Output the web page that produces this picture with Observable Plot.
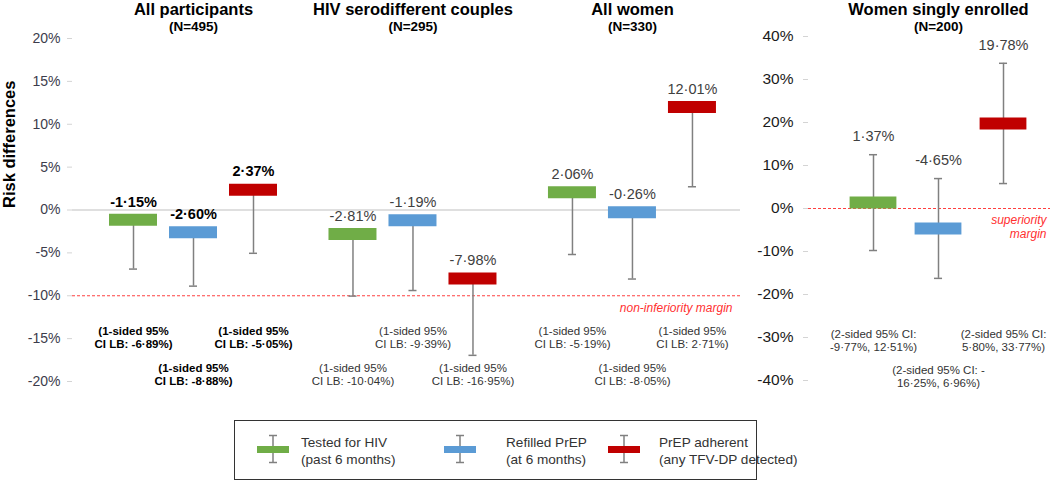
<!DOCTYPE html>
<html><head><meta charset="utf-8">
<script src="https://cdn.jsdelivr.net/npm/d3@7"></script>
<script src="https://cdn.jsdelivr.net/npm/@observablehq/plot@0.6"></script>
<style>
body{margin:0;background:#fff;font-family:"Liberation Sans",Arial,sans-serif;}
#wrap{position:relative;width:1050px;height:481px;overflow:hidden;background:#fff;}
#left{position:absolute;left:0;top:0;}
#right{position:absolute;left:740px;top:0;}
#legend{position:absolute;left:234px;top:420px;width:523px;height:60px;border:1.5px solid #333;box-sizing:border-box;}
#legend .icon{position:absolute;top:13px;}
#legend .lab{position:absolute;top:13px;font-size:13.6px;line-height:17px;color:#333;white-space:nowrap;}
</style></head><body>
<div id="wrap"><div id="left"></div><div id="right"></div><div id="legend"></div></div>
<script>
// ---------- data ----------
const groups = ["All participants", "HIV serodifferent couples", "All women", "Women singly enrolled"];
const groupN = [495, 295, 330, 200];
const seriesNames = ["Tested for HIV", "Refilled PrEP", "PrEP adherent"];
const seriesSub = ["(past 6 months)", "(at 6 months)", "(any TFV-DP detected)"];
const seriesColors = ["#70ad47", "#5b9bd5", "#c00000"];
const estimates = [[-1.15, -2.60, 2.37], [-2.81, -1.19, -7.98], [2.06, -0.26, 12.01], [1.37, -4.65, 19.78]];
const lowerCI   = [[-6.89, -8.88, -5.05], [-10.04, -9.39, -16.95], [-5.19, -8.05, 2.71], [-9.77, -16.25, 5.80]];
const upperCI   = [null, null, null, [12.51, 6.96, 33.77]];
const leftTicks  = [20, 15, 10, 5, 0, -5, -10, -15, -20];
const rightTicks = [40, 30, 20, 10, 0, -10, -20, -30, -40];
const nonInferiorityMargin = -10;
const superiorityMargin = 0;

// ---------- helpers ----------
const GROUP_STEP = 3.658;
const fmt = v => (v < 0 ? "-" : "") + Math.abs(v).toFixed(2).replace(".", "\u00b7") + "%";
function note(d) {
  if (d.hi == null) return `(1-sided 95%\nCI LB: ${fmt(d.lo)})`;
  if (d.lo <= -10) return `(2-sided 95% CI: -\n${fmt(-d.lo)}, ${fmt(d.hi)})`;
  return `(2-sided 95% CI:\n${fmt(d.lo)}, ${fmt(d.hi)})`;
}
function panelRows(gList) {
  const rows = [];
  gList.forEach((g, gi) => seriesNames.forEach((name, s) => rows.push({
    g, gi, s, name, u: gi * GROUP_STEP + s,
    est: estimates[g][s], lo: lowerCI[g][s], hi: upperCI[g] ? upperCI[g][s] : null,
    row: (gi + s) % 2
  })));
  return rows;
}
const FONT = "Liberation Sans, Arial, sans-serif";
const GRAY = "#808080";

function makePanel(o) {
  const rows = panelRows(o.groups);
  const caps = [];
  rows.forEach(d => { caps.push({u: d.u, v: d.lo}); if (d.hi != null) caps.push({u: d.u, v: d.hi}); });
  const top = d => d.hi != null ? d.hi : d.est;
  const titles = o.groups.map((g, gi) => ({g, u: gi * GROUP_STEP + 1}));
  const bold = d => d.g === 0;
  const marks = [];
  if (o.zeroLine) marks.push(Plot.ruleY([0], {stroke: "#bfbfbf", strokeWidth: 1}));
  marks.push(Plot.ruleY([o.margin], {stroke: "#ff4040", strokeWidth: 1, strokeDasharray: "3,2"}));
  marks.push(Plot.axisY({ticks: o.ticks, tickSize: 5, tickPadding: o.tickPadding, tickFormat: d => d + "%",
    fontSize: o.tickFont, fill: o.tickColor, stroke: "#d4d4d4", line: true, label: null}));
  marks.push(Plot.ruleX(rows, {x: "u", y1: top, y2: "lo", stroke: GRAY, strokeWidth: 1.5}));
  marks.push(Plot.ruleY(caps, {y: "v", x1: d => d.u - o.capHalf, x2: d => d.u + o.capHalf, stroke: GRAY, strokeWidth: 1.5}));
  marks.push(Plot.ruleY(rows, {y: "est", x1: d => d.u - o.barHalf, x2: d => d.u + o.barHalf, stroke: "name", strokeWidth: 12}));
  // value labels
  marks.push(Plot.text(rows.filter(bold), {x: "u", y: top, dy: -18, text: d => fmt(d.est), fontSize: 14.5, fontWeight: "bold", fill: "#000"}));
  marks.push(Plot.text(rows.filter(d => !bold(d)), {x: "u", y: top, dy: -18, text: d => fmt(d.est), fontSize: 14.5, fill: "#404040"}));
  // CI notes
  for (const r of [0, 1]) {
    const dy = r === 0 ? o.row0 : o.row1;
    marks.push(Plot.text(rows.filter(d => d.row === r && bold(d)), {x: "u", frameAnchor: "bottom", lineAnchor: "bottom", dy, text: note, fontSize: 11.5, lineHeight: 1.13, fontWeight: "bold", fill: "#000"}));
    marks.push(Plot.text(rows.filter(d => d.row === r && !bold(d)), {x: "u", frameAnchor: "bottom", lineAnchor: "bottom", dy, text: note, fontSize: 11.5, lineHeight: 1.13, fill: "#333"}));
  }
  // titles
  marks.push(Plot.text(titles, {x: "u", frameAnchor: "top", lineAnchor: "top", dy: o.titleDy, text: d => groups[d.g], fontSize: 16.5, fontWeight: "bold", fill: "#000"}));
  marks.push(Plot.text(titles, {x: "u", frameAnchor: "top", lineAnchor: "top", dy: o.titleDy + 17.5, text: d => `(N=${groupN[d.g]})`, fontSize: 13.5, fontWeight: "bold", fill: "#000"}));
  if (o.extra) marks.push(...o.extra);
  return Plot.plot({
    width: o.width, height: 400,
    marginLeft: o.marginLeft, marginRight: 0, marginTop: o.marginTop, marginBottom: o.marginBottom,
    x: {domain: o.xDomain, axis: null},
    y: {domain: [o.ticks[o.ticks.length - 1], o.ticks[0]]},
    color: {domain: seriesNames, range: seriesColors},
    style: {fontFamily: FONT, background: "transparent", overflow: "visible"},
    marks
  });
}

const left = makePanel({
  groups: [0, 1, 2], width: 740, marginLeft: 72, marginTop: 38, marginBottom: 19,
  xDomain: [-1.0167, 10.1167], ticks: leftTicks, barHalf: 0.4, capHalf: 0.067,
  tickFont: 14, tickColor: "#3c3c4c", tickPadding: 7, zeroLine: true, margin: nonInferiorityMargin,
  row0: -34, row1: 3.5, titleDy: -35,
  extra: [
    Plot.text(["Risk differences"], {frameAnchor: "left", dx: -63, dy: -2, rotate: -90, fontSize: 16.5, fontWeight: "bold", fill: "#000"}),
    Plot.text([nonInferiorityMargin], {y: d => d, frameAnchor: "right", textAnchor: "end", dx: -8, dy: 12,
      text: () => "non-inferiority margin", fill: "#ff3030", fontStyle: "italic", fontSize: 12})
  ]
});
const right = makePanel({
  groups: [3], width: 310, marginLeft: 68, marginTop: 36, marginBottom: 20,
  xDomain: [-1.0, 2.723], ticks: rightTicks, barHalf: 0.36, capHalf: 0.062,
  tickFont: 15.5, tickColor: "#1a1a1a", tickPadding: 10, zeroLine: false, margin: superiorityMargin,
  row0: -29.5, row1: 6.5, titleDy: -33,
  extra: [
    Plot.text([superiorityMargin], {y: d => d, frameAnchor: "right", textAnchor: "end", dx: -4, dy: 18,
      text: () => "superiority\nmargin", lineHeight: 1.15, fill: "#ff3030", fontStyle: "italic", fontSize: 12})
  ]
});
document.getElementById("left").appendChild(left);
document.getElementById("right").appendChild(right);

// ---------- legend ----------
const legend = document.getElementById("legend");
const iconLeft = [21, 208, 372];
const textLeft = [66, 271, 424];
seriesNames.forEach((name, i) => {
  const ns = "http://www.w3.org/2000/svg";
  const svg = document.createElementNS(ns, "svg");
  svg.setAttribute("width", 34); svg.setAttribute("height", 30);
  svg.setAttribute("class", "icon");
  svg.style.left = iconLeft[i] + "px";
  svg.innerHTML = `<line x1="17" x2="17" y1="1.5" y2="28.5" stroke="${GRAY}" stroke-width="1.5"/>
    <line x1="13" x2="21" y1="1.5" y2="1.5" stroke="${GRAY}" stroke-width="1.5"/>
    <line x1="13" x2="21" y1="28.5" y2="28.5" stroke="${GRAY}" stroke-width="1.5"/>
    <rect x="1" y="12" width="32" height="7" fill="${seriesColors[i]}"/>`;
  legend.appendChild(svg);
  const lab = document.createElement("div");
  lab.className = "lab";
  lab.style.left = textLeft[i] + "px";
  lab.innerHTML = name + "<br>" + seriesSub[i];
  legend.appendChild(lab);
});
</script>
</body></html>
